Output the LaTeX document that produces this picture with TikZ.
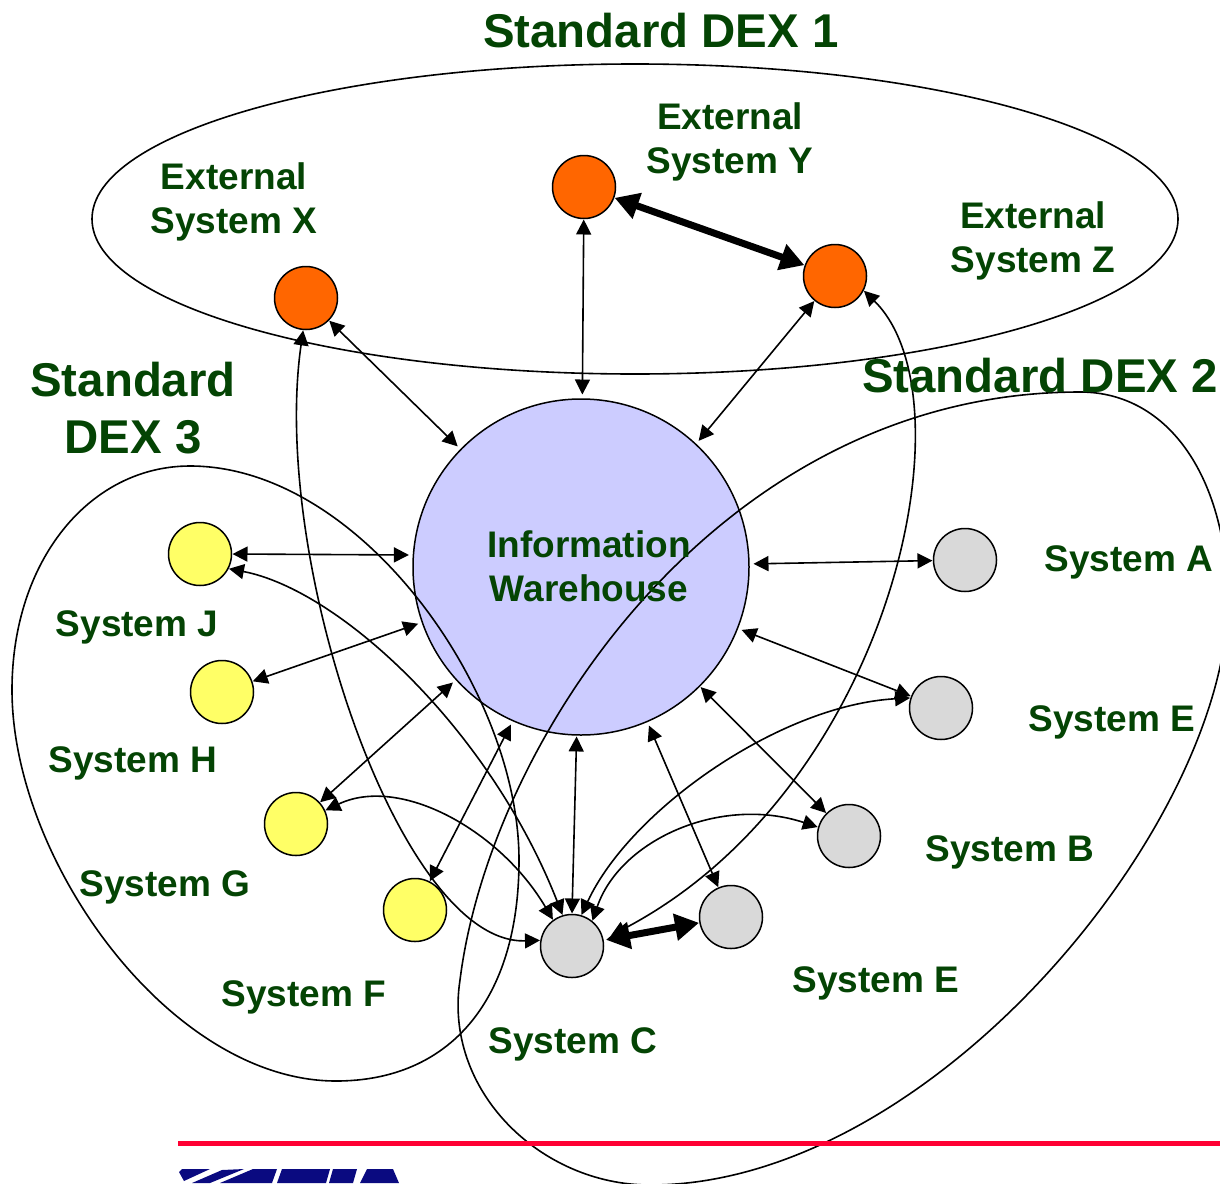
\documentclass[tikz,border=0pt]{standalone}
\usepackage{fontspec}
\setmainfont{Liberation Sans}
\usetikzlibrary{arrows.meta}
\definecolor{dexgreen}{HTML}{044404}
\definecolor{whblue}{HTML}{CCCCFF}
\definecolor{extorange}{HTML}{FF6600}
\definecolor{sysyellow}{HTML}{FFFF66}
\definecolor{sysgrey}{HTML}{D9D9D9}
\definecolor{rulered}{HTML}{FF0033}
\definecolor{logoblue}{HTML}{0A0A80}
\tikzset{
	sysnode/.style = {circle, draw, line width = 1.5pt, minimum size = 63pt, inner sep = 0pt, outer sep = 1pt},
	lab/.style = {text = dexgreen, font = \bfseries\fontsize{37}{44}\selectfont, align = center},
	biglab/.style = {text = dexgreen, font = \bfseries\fontsize{47.4}{57}\selectfont, align = center},
	link/.style = {{Triangle[length = 15pt, width = 15pt]}-{Triangle[length = 15pt, width = 15pt]}, line width = 1.6pt},
	thicklink/.style = {{Triangle[length = 24pt, width = 26pt]}-{Triangle[length = 24pt, width = 26pt]}, line width = 7pt},
	blob/.style = {line width = 1.6pt}
}
\begin{document}
\begin{tikzpicture}[x = 1pt, y = -1pt]
	\useasboundingbox (0,0) rectangle (1220,1183);

	% warehouse and the systems
	\node [circle, draw, fill = whblue, line width = 1.5pt, minimum size = 336pt, inner sep = 0pt, outer sep = 4.5pt] (wh) at (581,567) {};
	\node [sysnode, fill = extorange] (sysX) at (306,298) {};
	\node [sysnode, fill = extorange] (sysY) at (584,187) {};
	\node [sysnode, fill = extorange] (sysZ) at (835,276) {};
	\node [sysnode, fill = sysgrey] (sysA) at (965,560) {};
	\node [sysnode, fill = sysgrey] (sysEa) at (941,708) {};
	\node [sysnode, fill = sysgrey] (sysB) at (849,836) {};
	\node [sysnode, fill = sysgrey] (sysEb) at (731,917) {};
	\node [sysnode, fill = sysgrey] (sysC) at (572,946) {};
	\node [sysnode, fill = sysyellow] (sysF) at (415,910) {};
	\node [sysnode, fill = sysyellow] (sysG) at (296,824) {};
	\node [sysnode, fill = sysyellow] (sysH) at (222,692) {};
	\node [sysnode, fill = sysyellow] (sysJ) at (200,554) {};

	% the three exchange groups
	\draw [blob] (635,219) ellipse [x radius = 543, y radius = 155];
	\draw [blob] (1080,392) .. controls (1170,392) and (1228,480) .. (1228,605)
		.. controls (1222,830) and (930,1185) .. (650,1185)
		.. controls (540,1185) and (443,1090) .. (460,980)
		.. controls (490,740) and (720,392) .. (1080,392) -- cycle;
	\draw [blob] (190,466) .. controls (360,466) and (519,690) .. (519,860)
		.. controls (519,1000) and (450,1081) .. (336,1081)
		.. controls (170,1081) and (12,860) .. (12,690)
		.. controls (12,560) and (90,466) .. (190,466) -- cycle;

	% links to the warehouse
	\draw [link] (sysX) -- (wh);
	\draw [link] (sysY) -- (wh);
	\draw [link] (sysZ) -- (wh.47);
	\draw [link] (sysA) -- (wh);
	\draw [link] (sysEa) -- (wh);
	\draw [link, shorten > = -3pt] (sysB) -- (wh);
	\draw [link] (sysEb) -- (wh);
	\draw [link, shorten > = -3pt] (sysC.90) -- (wh);
	\draw [link] (sysF) -- (wh.246);
	\draw [link] (sysG) -- (wh);
	\draw [link] (sysH) -- (wh);
	\draw [link] (sysJ.0) -- (wh.176);

	% direct links
	\draw [thicklink] (sysY) -- (sysZ);
	\draw [thicklink, shorten < = 2pt] (sysC) -- (sysEb);
	\draw [link] (sysX.265) .. controls (270,560) and (400,945) .. (sysC.170);
	\draw [link, shorten > = 8pt] (sysZ.-27) .. controls (975,400) and (890,790) .. (sysC.12);
	\draw [link] (sysJ.-27) .. controls (340,590) and (490,730) .. (sysC.107);
	\draw [link] (sysG.25) .. controls (400,775) and (500,830) .. (sysC.126);
	\draw [link] (sysEa.162) .. controls (780,705) and (630,810) .. (sysC.73);
	\draw [link] (sysB.164) .. controls (720,795) and (620,840) .. (sysC.51);

	% labels
	\node [biglab] (titleA) at (661,31) {Standard DEX 1};
	\node [biglab] (titleB) at (1040,376) {Standard DEX 2};
	\node [biglab] (titleC) at (133,408) {Standard\\DEX 3};
	\node [lab] (labWh) at (589,566) {Information\\Warehouse};
	\node [lab] (labX) at (234,202) {External\\System X};
	\node [lab] (labY) at (730,142) {External\\System Y};
	\node [lab] (labZ) at (1033,241) {External\\System Z};
	\node [lab] (labA) at (1129,562) {System A};
	\node [lab] (labEa) at (1112,722) {System E};
	\node [lab] (labB) at (1010,852) {System B};
	\node [lab] (labEb) at (876,983) {System E};
	\node [lab] (labC) at (573,1044) {System C};
	\node [lab] (labF) at (304,997) {System F};
	\node [lab] (labG) at (165,887) {System G};
	\node [lab] (labH) at (133,763) {System H};
	\node [lab] (labJ) at (137,627) {System J};

	% rule and the top of the logo
	\coordinate (ruleL) at (178,1143);
	\coordinate (ruleR) at (1220,1143);
	\draw [rulered, line width = 5pt] (ruleL) -- (ruleR);
	\fill [logoblue] (179,1172) -- (182,1169) -- (210,1169) -- (184,1181) -- cycle;
	\fill [logoblue] (192,1183) -- (222,1170) -- (244,1169) -- (210,1183) -- cycle;
	\fill [logoblue] (220,1183) -- (253,1169) -- (277,1169) -- (272,1183) -- cycle;
	\fill [logoblue] (282,1169) -- (330,1169) -- (326,1183) -- (277,1183) -- cycle;
	\fill [logoblue] (333,1169) -- (357,1169) -- (353,1183) -- (329,1183) -- cycle;
	\fill [logoblue] (367,1169) -- (393,1169) -- (399,1183) -- (360,1183) -- cycle;
\end{tikzpicture}
\end{document}
